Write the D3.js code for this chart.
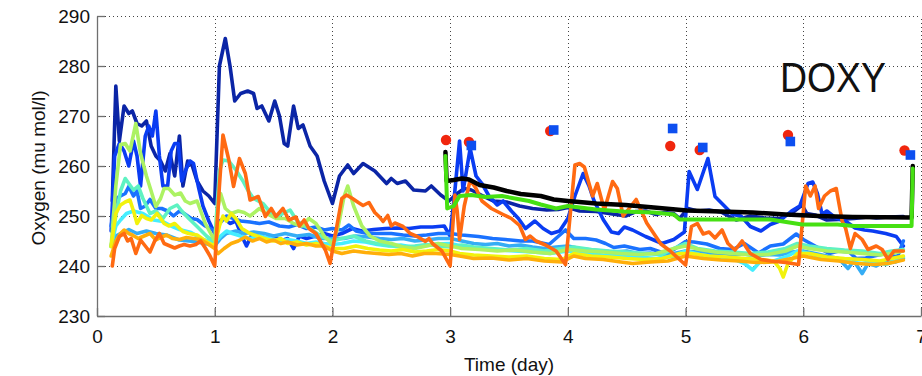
<!DOCTYPE html>
<html>
<head>
<meta charset="utf-8">
<script src="https://cdn.jsdelivr.net/npm/d3@7"></script>
<style>
  html, body { margin: 0; padding: 0; background: #fff; }
  svg { display: block; }
  text { font-family: "Liberation Sans", Arial, Helvetica, sans-serif; fill: #111; }
</style>
</head>
<body>
<svg id="chart" width="922" height="376"></svg>
<script>
// Dissolved oxygen records, [time in days, oxygen in µmol/l]
const navy = [[0.13,253],[0.16,276],[0.19,265],[0.23,272],[0.27,270.5],[0.30,271],[0.34,268.5],[0.38,268],[0.42,269],[0.46,264],[0.50,262],[0.54,261],[0.58,259],[0.62,262.5],[0.66,258],[0.70,266],[0.73,256],[0.77,261],[0.81,260],[0.85,257],[0.90,255],[0.95,254],[1.0,252.5],
  [1.04,280],[1.09,285.5],[1.13,280],[1.17,273],[1.22,274.5],[1.28,275],[1.33,274.5],[1.36,271.5],[1.40,272],[1.46,269],[1.51,273],[1.55,270],[1.59,264.5],[1.62,264],[1.67,272],[1.71,267.5],[1.75,268.2],[1.81,264],[1.87,262],[1.93,257],[2.0,252.5],
  [2.06,258],[2.13,260.2],[2.18,258.5],[2.26,260.5],[2.36,259],[2.46,256.5],[2.50,257.5],[2.55,256.5],[2.62,257],[2.69,255.2],[2.79,255],[2.84,256],[2.92,254.2],[2.99,253],
  [3.06,254.5],[3.12,255.5],[3.18,255.2],[3.28,254],[3.37,253],[3.48,252.8],[3.59,252],[3.7,251.5],[3.82,251.2],[3.92,251.3],[4.0,251.7],[4.1,251],[4.24,250.9],[4.35,250.5],[4.49,250],[4.58,250.9],[4.66,251],[4.75,250.3],[4.82,250.7],[4.9,250.5],[4.95,249.5],[5.02,251.5],[5.1,251],[5.2,251.2],[5.3,250.8],[5.43,249.2],[5.55,250],[5.67,249.6],[5.8,249.5],[5.92,250.9],[5.99,252.2],[6.03,250.5],[6.1,250.2],[6.2,249.2],[6.3,249.3],[6.43,249.5],[6.55,249.8],[6.62,249.6],[6.72,249.8],[6.85,249.9]];

const blue = [[0.12,247],[0.15,262],[0.19,264.5],[0.23,263],[0.27,260],[0.31,265],[0.34,262],[0.37,256],[0.41,266],[0.44,268],[0.47,266],[0.50,271],[0.53,262],[0.56,256],[0.60,256],[0.63,263],[0.66,264.5],[0.69,264.5],[0.72,257],[0.75,259],[0.79,261],[0.82,260.5],[0.86,256],[0.90,252],[0.95,249],[1.0,246.5],
  [1.04,249],[1.08,249.5],[1.13,248.5],[1.18,249],[1.23,246],[1.27,244],[1.31,246],[1.37,246.5],[1.43,245.5],[1.5,246],[1.56,245],[1.62,245.5],[1.67,243.5],[1.72,246],[1.78,245.5],[1.86,246],[1.93,246.5],[2.0,246],
  [2.08,246.5],[2.17,247.5],[2.25,247],[2.35,247.3],[2.45,247.5],[2.55,247.6],[2.65,247.5],[2.75,247.8],[2.85,247.8],[2.95,248],[3.0,246],
  [3.04,255],[3.08,265],[3.11,255],[3.17,263.5],[3.22,258],[3.27,256.5],[3.33,254],[3.4,252.2],[3.45,253],[3.52,251],[3.58,249.5],[3.64,247.5],[3.72,249],[3.79,247.5],[3.86,246.5],[3.93,247],[4.0,249.5],[4.06,254],[4.13,258.5],[4.18,256],[4.22,253.2],[4.3,249.3],[4.37,246.8],[4.43,246.5],[4.48,247.8],[4.55,247.2],[4.66,245.9],[4.8,244.5],[4.9,245.3],[4.99,246.8],[5.03,258.9],[5.1,255.3],[5.19,261.5],[5.25,253.9],[5.33,252],[5.4,250.3],[5.47,250],[5.55,247.9],[5.64,247],[5.72,248.3],[5.8,249],[5.9,251],[5.97,252],[6.04,256.5],[6.08,256.8],[6.12,254.5],[6.16,250.3],[6.2,251],[6.27,249.7],[6.37,248.8],[6.44,247.6],[6.52,247.2],[6.59,247],[6.7,246.5],[6.79,245.9],[6.85,244]];

const azure = [[0.12,248],[0.16,253.5],[0.2,254],[0.24,254.5],[0.27,255.9],[0.31,254],[0.34,255],[0.37,251.5],[0.41,252],[0.45,253.3],[0.5,251.5],[0.55,251.5],[0.6,251],[0.65,250],[0.7,251],[0.74,250.5],[0.8,249.5],[0.85,249.3],[0.92,248],[1.0,247],
  [1.04,248.5],[1.1,250],[1.16,249.5],[1.22,249],[1.3,248.8],[1.38,248.5],[1.46,248.8],[1.55,248],[1.63,247.8],[1.7,248.3],[1.78,247.5],[1.86,247.8],[1.93,247.2],[2.0,247.5],
  [2.08,247.2],[2.14,248.2],[2.2,247],[2.3,246.5],[2.4,246.5],[2.5,246.5],[2.6,246.2],[2.7,246],[2.8,246.2],[2.9,246.5],[3.0,246.5],
  [3.1,246.2],[3.24,245.9],[3.36,245.5],[3.47,245.3],[3.6,245],[3.7,245],[3.84,244.3],[3.98,247.2],[4.05,245.5],[4.15,245.5],[4.24,245.2],[4.32,244.5],[4.39,243.7],[4.48,244],[4.61,243.3],[4.7,243.5],[4.8,242.7],[4.9,243.3],[5.0,244.9],[5.07,244.8],[5.18,244.4],[5.29,243.5],[5.4,243.3],[5.5,244.5],[5.62,242.6],[5.72,244],[5.83,244.4],[5.94,246.4],[6.0,245.3],[6.1,244],[6.22,242.5],[6.3,243],[6.39,242.8],[6.45,241.5],[6.53,241.6],[6.6,242],[6.7,242.5],[6.8,241.8],[6.85,245]];

const sky = [[0.12,244],[0.16,246],[0.2,246.5],[0.27,247.3],[0.34,246.5],[0.42,247],[0.5,246.5],[0.59,246.2],[0.7,245.2],[0.82,244.9],[0.92,244.5],[1.0,244],
  [1.05,245.5],[1.1,246.5],[1.18,247],[1.25,246.5],[1.33,246.8],[1.42,246.5],[1.5,246],[1.6,246.5],[1.7,246],[1.8,246.3],[1.9,245.5],[2.0,245.5],
  [2.1,245.5],[2.2,246],[2.3,245.8],[2.4,245.5],[2.5,245.3],[2.6,245.5],[2.7,245],[2.8,245.2],[2.9,245.5],[3.0,245.5],
  [3.1,245],[3.2,244.5],[3.3,244.3],[3.4,244.5],[3.5,244],[3.6,244.2],[3.7,243.8],[3.8,243.5],[3.9,243.8],[4.0,244],[4.1,243.5],[4.2,243.2],[4.3,243],[4.4,242.8],[4.5,243],[4.6,242.5],[4.7,242.6],[4.8,242.2],[4.9,242.5],[5.0,243],[5.1,242.8],[5.2,242.5],[5.3,242.6],[5.4,242.2],[5.5,242.4],[5.6,242],[5.7,242.3],[5.8,242.2],[5.9,242.8],[6.0,243],[6.1,242.5],[6.2,242],[6.3,241.5],[6.38,239.5],[6.43,241],[6.5,238.5],[6.55,240.5],[6.62,240],[6.7,241],[6.78,240.8],[6.85,241.5]];

const cyan = [[0.12,244],[0.16,248],[0.2,249.2],[0.25,250.5],[0.31,251],[0.39,250.5],[0.48,249.2],[0.56,248.9],[0.63,248],[0.7,247.3],[0.8,246.7],[0.9,245.3],[1.0,244.7],
  [1.05,246],[1.1,247],[1.15,246.5],[1.22,246],[1.3,245.5],[1.38,246],[1.47,245.5],[1.55,245],[1.62,245.3],[1.7,245],[1.78,244.5],[1.86,244.8],[1.93,244.5],[2.0,244.3],
  [2.08,244.5],[2.18,245],[2.28,244.8],[2.38,244.3],[2.48,244],[2.58,244.2],[2.68,243.8],[2.78,244],[2.88,244.4],[3.0,244.5],
  [3.1,244],[3.25,243.5],[3.4,243.3],[3.55,243],[3.7,242.8],[3.85,242.5],[4.0,243],[4.15,242.5],[4.3,242.2],[4.45,242],[4.6,241.8],[4.75,241.5],[4.9,242],[5.0,243],[5.12,242.3],[5.25,241.8],[5.4,241.5],[5.5,240.5],[5.57,239.2],[5.63,240.8],[5.75,241],[5.85,241.8],[5.95,243],[6.05,242.5],[6.2,241.5],[6.35,241],[6.5,240.5],[6.6,241],[6.7,240.3],[6.78,241],[6.85,241.8]];

const aqua = [[0.12,243.9],[0.16,250],[0.2,255],[0.24,257.5],[0.27,256.5],[0.31,255.2],[0.35,256],[0.39,253.5],[0.45,250.5],[0.5,251],[0.56,249.5],[0.62,251.5],[0.68,252.2],[0.72,251],[0.78,249.5],[0.85,247.9],[0.93,246],[1.0,244.7],
  [1.04,259],[1.07,261.2],[1.12,261],[1.18,259.2],[1.24,257],[1.28,255.2],[1.33,253.5],[1.41,252.5],[1.48,250.5],[1.53,249.8],[1.58,250.5],[1.64,251.2],[1.7,249],[1.76,248],[1.81,247.5],[1.9,246],[2.0,245],
  [2.08,245.5],[2.18,246],[2.28,245],[2.38,244.5],[2.5,244],[2.6,243.8],[2.7,244],[2.8,244.3],[2.9,244],[3.0,243.8],
  [3.1,244.2],[3.2,243.8],[3.35,243.5],[3.5,243.2],[3.65,243.5],[3.8,243],[3.95,243.5],[4.05,243.8],[4.2,243.3],[4.35,243],[4.5,242.8],[4.65,242.5],[4.8,242.3],[4.9,243.5],[5.0,244.5],[5.1,243.5],[5.25,243],[5.4,242.8],[5.55,242.5],[5.7,242.8],[5.85,243.5],[5.95,244.5],[6.05,244],[6.2,243.5],[6.35,243.2],[6.5,243],[6.65,242.5],[6.75,243],[6.85,243.3]];

const lime = [[0.12,243.9],[0.16,256],[0.2,264.3],[0.24,264.5],[0.28,263],[0.33,268.5],[0.37,262.5],[0.42,258],[0.46,255],[0.5,251.9],[0.54,253.5],[0.57,255.5],[0.61,255.5],[0.66,254.2],[0.71,254.6],[0.75,253],[0.79,252.5],[0.85,253],[0.92,248.5],[1.0,245],
  [1.03,252],[1.05,254.5],[1.09,251.5],[1.14,250.5],[1.2,251],[1.25,250.7],[1.3,250],[1.38,251.5],[1.44,250.5],[1.52,249.5],[1.6,249.5],[1.67,248.5],[1.74,248],[1.8,249.5],[1.86,248.5],[1.93,246],[2.0,244.3],
  [2.05,248],[2.1,254],[2.13,256],[2.18,252],[2.25,248],[2.32,246],[2.4,245],[2.5,244.5],[2.6,243.8],[2.7,243.5],[2.8,244],[2.9,244.5],[3.0,244],
  [3.1,243.5],[3.25,243.3],[3.4,243],[3.55,243.2],[3.7,242.8],[3.85,242.5],[4.0,243.3],[4.15,243],[4.3,242.8],[4.45,242.5],[4.6,242.3],[4.75,242.5],[4.9,243.5],[5.0,244],[5.12,243.3],[5.25,242.8],[5.4,242.5],[5.55,242.2],[5.7,242.3],[5.85,243],[5.95,244],[6.05,243.5],[6.2,243],[6.35,242.8],[6.5,242.5],[6.65,242.2],[6.75,242.5],[6.85,243]];

const yellow = [[0.12,243.9],[0.16,250.5],[0.2,252.2],[0.24,252.8],[0.28,253.2],[0.31,251],[0.34,248.5],[0.38,250.1],[0.42,249.5],[0.46,249.2],[0.51,250.5],[0.57,248.5],[0.61,248],[0.66,248.5],[0.73,246.9],[0.78,246.5],[0.85,246.2],[0.93,244.9],[1.0,244],
  [1.04,248],[1.07,250],[1.1,249],[1.14,250.5],[1.18,249.5],[1.23,247.5],[1.3,246.5],[1.36,246],[1.42,245.5],[1.5,245],[1.56,245.5],[1.62,244.5],[1.7,244.8],[1.78,244.2],[1.86,244.5],[1.93,244],[2.0,243.5],
  [2.1,243.5],[2.2,244],[2.3,243.5],[2.4,243.2],[2.5,243],[2.6,243.3],[2.7,242.8],[2.8,243],[2.9,243.3],[3.0,243],
  [3.08,242.5],[3.2,242.2],[3.35,242],[3.5,241.8],[3.65,242],[3.8,241.5],[3.95,241.3],[4.05,242.5],[4.2,242],[4.35,241.8],[4.5,241.5],[4.65,241.3],[4.8,241.5],[4.95,242.5],[5.05,242.5],[5.2,242],[5.35,241.8],[5.5,241.5],[5.65,241.3],[5.75,241],[5.8,239.5],[5.83,237.8],[5.87,240.5],[5.95,242.5],[6.05,242.5],[6.2,241.8],[6.35,241.5],[6.5,241.3],[6.65,241],[6.75,241.5],[6.85,242]];

const amber = [[0.12,242],[0.16,245],[0.2,246.5],[0.23,247.2],[0.27,246.5],[0.3,246.2],[0.35,245.5],[0.4,246],[0.45,246.5],[0.5,245.2],[0.55,245.8],[0.59,246.2],[0.64,245.5],[0.7,245.3],[0.76,245.7],[0.82,245.5],[0.88,245.3],[0.93,244.6],[1.0,243.5],
  [1.03,242.5],[1.08,243.5],[1.14,244.5],[1.2,245],[1.26,245.8],[1.32,245],[1.38,245.5],[1.44,244.8],[1.5,245.2],[1.56,244.5],[1.62,244.8],[1.7,244.2],[1.78,244.5],[1.86,244],[1.93,244],[2.0,243],
  [2.08,242.5],[2.18,243],[2.28,242.7],[2.38,242.5],[2.48,242.3],[2.58,242.5],[2.68,242],[2.78,242.5],[2.88,242.5],[3.0,242.3],
  [3.08,242],[3.2,241.5],[3.35,241.6],[3.5,241.2],[3.65,241.5],[3.8,241],[3.95,240.8],[4.05,242],[4.15,241.5],[4.3,241.3],[4.45,240.8],[4.55,240.5],[4.7,240.8],[4.85,241],[5.0,242],[5.15,241.5],[5.3,241.2],[5.45,241],[5.6,240.7],[5.75,240.8],[5.9,241.5],[6.0,242],[6.15,241.3],[6.3,241],[6.45,240.5],[6.6,240.3],[6.72,240.5],[6.85,241.2]];

const orange = [[0.13,240],[0.15,243.5],[0.19,245.9],[0.23,246.5],[0.26,245],[0.29,245.5],[0.33,242.5],[0.37,245.2],[0.41,244],[0.45,242.8],[0.49,245],[0.53,246.5],[0.57,244.5],[0.62,244],[0.66,243.6],[0.7,244],[0.74,244.3],[0.79,244],[0.84,244.3],[0.88,245],[0.92,243.6],[0.96,242],[1.0,240],
  [1.04,256],[1.07,266.2],[1.12,261.2],[1.16,255.9],[1.21,261.5],[1.26,258.5],[1.3,253.2],[1.37,253.9],[1.43,249.9],[1.48,251.5],[1.52,249.9],[1.58,251.5],[1.63,249.2],[1.69,249.8],[1.72,248],[1.76,249.2],[1.8,247.5],[1.86,246.5],[1.94,243.2],[1.98,240.5],
  [2.08,253.5],[2.12,254.2],[2.17,253.5],[2.22,252.7],[2.26,252.1],[2.31,252.7],[2.36,250.7],[2.4,249.8],[2.43,248.9],[2.47,250.1],[2.5,248],[2.53,248.6],[2.6,247.9],[2.66,246.5],[2.72,245.9],[2.79,244.9],[2.82,245.5],[2.85,244.5],[2.93,243],[3.0,240],
  [3.04,254.2],[3.06,251],[3.08,245.3],[3.12,252],[3.17,257.2],[3.22,255.5],[3.27,253],[3.35,251.5],[3.45,250.3],[3.52,249.5],[3.59,248.1],[3.64,245.3],[3.68,246],[3.73,245],[3.81,244.2],[3.9,243],[3.98,240.3],
  [4.06,260.2],[4.1,260.5],[4.14,259.8],[4.21,254],[4.25,256.5],[4.31,251.2],[4.38,256.9],[4.42,255.5],[4.47,250],[4.52,251.5],[4.58,253.3],[4.67,248.6],[4.79,244.4],[4.87,243],[5.0,240.2],
  [5.05,247.9],[5.1,248.5],[5.15,246.4],[5.2,246.8],[5.25,245.6],[5.31,247.2],[5.36,244.5],[5.42,243.2],[5.48,245],[5.55,242.5],[5.64,241.3],[5.72,241],[5.85,240.7],[5.96,240.3],
  [6.02,256],[6.06,254],[6.1,256],[6.13,251.5],[6.18,254],[6.23,255],[6.28,255.5],[6.33,249],[6.36,247.5],[6.4,243.5],[6.44,246.5],[6.5,245.3],[6.55,243.3],[6.62,244],[6.67,243.3],[6.72,241.3],[6.77,243],[6.85,243]];

const black = [[2.96,262.8],[2.97,257],[3.03,257.2],[3.1,257.5],[3.16,257.3],[3.25,256.2],[3.37,255.7],[3.48,255],[3.6,254.4],[3.77,254],[3.88,253.3],[4.0,253],[4.24,252.5],[4.49,252.2],[4.73,251.7],[5.01,251.1],[5.3,250.9],[5.57,250.7],[5.85,250.3],[6.13,250],[6.42,249.8],[6.92,249.7],[6.93,260]];

const green = [[2.96,262],[2.975,251.5],[3.03,252],[3.08,254],[3.18,254.2],[3.3,253.8],[3.44,254],[3.55,253.5],[3.67,253],[3.77,252.3],[3.9,251.5],[4.0,252],[4.24,251.3],[4.47,250.9],[4.73,250.7],[4.9,250.3],[4.95,249.3],[5.3,249.3],[5.72,249.3],[5.99,248.3],[6.29,248.3],[6.43,248],[6.92,248],[6.93,259.5]];

// Point samples
const circles = [[2.965,265.2],[3.16,264.8],[3.85,267],[4.87,264],[5.12,263.2],[5.87,266.2],[6.86,263.1]];
const squares = [[3.18,264.1],[3.88,267.2],[4.89,267.5],[5.146,263.7],[5.89,264.9],[6.91,262.2]];

const xTicks = [0, 1, 2, 3, 4, 5, 6, 7];
const yTicks = [230, 240, 250, 260, 270, 280, 290];

const series = [
  { data: navy,   color: "#0b25a6", w: 3.6 },
  { data: blue,   color: "#0a3cf2", w: 3.6 },
  { data: azure,  color: "#1a72ff", w: 3.6 },
  { data: sky,    color: "#35adf5", w: 3.6 },
  { data: cyan,   color: "#45eeff", w: 3.6 },
  { data: aqua,   color: "#5ef2c2", w: 3.6 },
  { data: lime,   color: "#acf263", w: 3.6 },
  { data: yellow, color: "#f2f20c", w: 3.6 },
  { data: amber,  color: "#ffae0a", w: 3.6 },
  { data: orange, color: "#ff6a12", w: 3.6 },
  { data: black,  color: "#000000", w: 4.5 },
  { data: green,  color: "#46e012", w: 4 }
];

const svg = d3.select("#chart");
const x = d3.scaleLinear().domain([0, 7]).range([97, 921]);
const y = d3.scaleLinear().domain([230, 290]).range([316, 16]);

// dotted grid
const grid = svg.append("g").attr("stroke", "#444").attr("stroke-width", 1).attr("stroke-dasharray", "1,3");
grid.selectAll("line.h").data(yTicks.slice(1)).join("line")
  .attr("x1", x(0)).attr("x2", x(7))
  .attr("y1", d => Math.round(y(d)) + 0.5).attr("y2", d => Math.round(y(d)) + 0.5);
grid.selectAll("line.v").data(xTicks.slice(1)).join("line")
  .attr("y1", y(230)).attr("y2", y(290))
  .attr("x1", d => Math.round(x(d)) + 0.5).attr("x2", d => Math.round(x(d)) + 0.5);

// axes with inward ticks
const axisColor = "#6f6f6f";
const gx = svg.append("g").attr("transform", `translate(0,${y(230)})`)
  .call(d3.axisBottom(x).tickValues(xTicks).tickFormat(d3.format("d")).tickSizeInner(-8).tickSizeOuter(0).tickPadding(14));
const gy = svg.append("g").attr("transform", `translate(${x(0)},0)`)
  .call(d3.axisLeft(y).tickValues(yTicks).tickFormat(d3.format("d")).tickSizeInner(-8).tickSizeOuter(0).tickPadding(7));
[gx, gy].forEach(g => {
  g.select(".domain").attr("stroke", axisColor).attr("stroke-width", 1.3);
  g.selectAll(".tick line").attr("stroke", axisColor).attr("stroke-width", 1.3);
  g.selectAll(".tick text").attr("font-size", 19).attr("fill", "#111")
    .attr("font-family", "'Liberation Sans', Arial, sans-serif");
});

// lines
const line = d3.line().x(d => x(d[0])).y(d => y(d[1]));
svg.append("g").selectAll("path").data(series).join("path")
  .attr("d", s => line(s.data))
  .attr("fill", "none")
  .attr("stroke", s => s.color)
  .attr("stroke-width", s => s.w)
  .attr("stroke-linejoin", "round")
  .attr("stroke-linecap", "round");

// markers
svg.append("g").selectAll("circle").data(circles).join("circle")
  .attr("cx", d => x(d[0])).attr("cy", d => y(d[1])).attr("r", 5.2)
  .attr("fill", "#f0260e");
svg.append("g").selectAll("rect").data(squares).join("rect")
  .attr("x", d => x(d[0]) - 4.8).attr("y", d => y(d[1]) - 4.8)
  .attr("width", 9.6).attr("height", 9.6)
  .attr("fill", "#0d4ff0");

// labels
svg.append("text").attr("x", 509).attr("y", 371).attr("text-anchor", "middle")
  .attr("font-size", 19).text("Time (day)");
svg.append("text").attr("transform", "translate(45,168) rotate(-90)").attr("text-anchor", "middle")
  .attr("font-size", 19).text("Oxygen (mu mol/l)");
svg.append("text").attr("x", 780).attr("y", 92).attr("font-size", 42)
  .attr("textLength", 106).attr("lengthAdjust", "spacingAndGlyphs").text("DOXY");
</script>
</body>
</html>
